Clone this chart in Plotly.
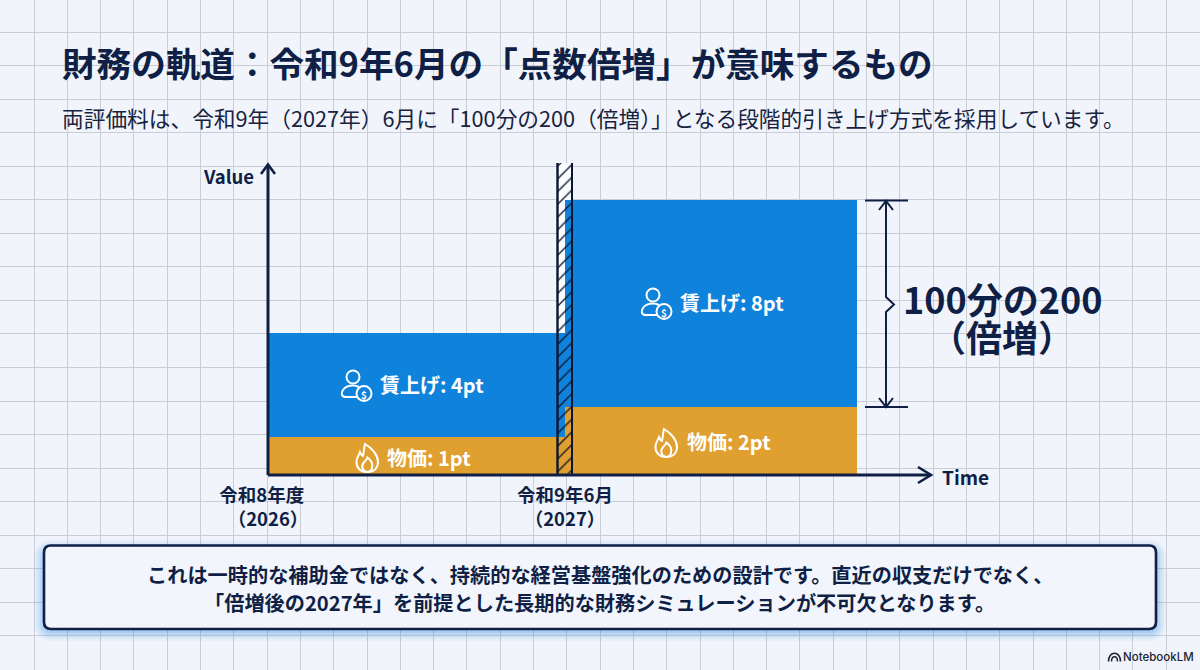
import plotly.graph_objects as go

# ---------- data ----------
time_ticks = [0, 1]
tick_labels = ["令和8年度&nbsp;&nbsp;&nbsp;<br>（2026）", "令和9年6月<br>（2027）"]
price_heights = [1.38, 2.47]   # in pt-scale of the axis
wage_heights = [3.78, 7.53]
bar_spans = [1.0, 0.983]
price_labels = ["物価: 1pt", "物価: 2pt"]
wage_labels = ["賃上げ: 4pt", "賃上げ: 8pt"]
title = "財務の軌道：令和9年6月の「点数倍増」が意味するもの"
subtitle = "両評価料は、令和9年（2027年）6月に「100分の200（倍増）」となる段階的引き上げ方式を採用しています。"
note_lines = ["これは一時的な補助金ではなく、持続的な経営基盤強化のための設計です。直近の収支だけでなく、",
              "「倍増後の2027年」を前提とした長期的な財務シミュレーションが不可欠となります。"]
y_top = 11.345
break_at = [1]

# ---------- style ----------
NAVY = "#0f1f45"
BLUE = "#0f82dc"
GOLD = "#e0a02f"
BG = "#f1f5fb"
GRID = "#c9cdd5"
FONT = "Noto Sans CJK JP"
PX_PER_X = 297.0

fig = go.Figure()

# full-page axes (pixel scale) carrying the squared paper
fig.add_trace(go.Scatter(x=[0], y=[0], mode="none", hoverinfo="skip", showlegend=False, xaxis="x", yaxis="y"))

common = dict(xaxis="x2", yaxis="y2", showlegend=False, hoverinfo="skip")
fig.add_trace(go.Bar(x=break_at, y=[y_top], width=[15 / PX_PER_X], offset=[-8 / PX_PER_X],
                     marker=dict(color="#fbfcfe", line=dict(width=0)), **common))
fig.add_trace(go.Bar(x=time_ticks, y=price_heights, width=bar_spans, offset=[0, 0],
                     marker=dict(color=GOLD, line=dict(width=0)), **common))
fig.add_trace(go.Bar(x=time_ticks, y=wage_heights, base=price_heights, width=bar_spans, offset=[0, 0],
                     marker=dict(color=BLUE, line=dict(width=0)), **common))
fig.add_trace(go.Bar(x=break_at, y=[y_top], width=[15 / PX_PER_X], offset=[-8 / PX_PER_X],
                     marker=dict(color="rgba(0,0,0,0)", line=dict(width=0),
                                 pattern=dict(shape="/", fgcolor="#0a1530", bgcolor="rgba(0,0,0,0)",
                                              size=9, solidity=0.15)), **common))


def line(x0, y0, x1, y1, w=2.0, c=NAVY):
    return dict(type="line", xref="x", yref="y", x0=x0, y0=y0, x1=x1, y1=y1,
                line=dict(color=c, width=w))


def path(d, w=2.0, c=NAVY, fill="rgba(0,0,0,0)"):
    return dict(type="path", xref="x", yref="y", path=d, fillcolor=fill, line=dict(color=c, width=w))


def circle(cx, cy, r):
    k = 0.5523 * r
    return (f"M {cx - r} {cy} C {cx - r} {cy - k} {cx - k} {cy - r} {cx} {cy - r} "
            f"C {cx + k} {cy - r} {cx + r} {cy - k} {cx + r} {cy} "
            f"C {cx + r} {cy + k} {cx + k} {cy + r} {cx} {cy + r} "
            f"C {cx - k} {cy + r} {cx - r} {cy + k} {cx - r} {cy} Z")


def rrect(x0, y0, x1, y1, r):
    return (f"M {x0 + r} {y0} L {x1 - r} {y0} Q {x1} {y0} {x1} {y0 + r} L {x1} {y1 - r} "
            f"Q {x1} {y1} {x1 - r} {y1} L {x0 + r} {y1} Q {x0} {y1} {x0} {y1 - r} "
            f"L {x0} {y0 + r} Q {x0} {y0} {x0 + r} {y0} Z")


def person(dx, dy):
    w = 2.0
    return [
        path(circle(353 + dx, 377 + dy, 6.5), w, "white"),
        path(f"M {357 + dx} {397 + dy} L {346 + dx} {397 + dy} C {341 + dx} {397 + dy} {341 + dx} {393 + dy} "
             f"{343 + dx} {390 + dy} C {345 + dx} {387 + dy} {349 + dx} {385.5 + dy} {353 + dx} {385.5 + dy} "
             f"C {355 + dx} {385.5 + dy} {357 + dx} {386 + dy} {359 + dx} {387 + dy}", w, "white"),
        path(circle(364 + dx, 393.5 + dy, 7.5), w, "white"),
    ]


def flame(dx, dy):
    w = 2.0
    return [
        path(f"M {367 + dx} {472 + dy} C {360 + dx} {472 + dy} {356 + dx} {467 + dy} {356.5 + dx} {461 + dy} "
             f"C {357 + dx} {457 + dy} {359 + dx} {455 + dy} {360 + dx} {452 + dy} C {361 + dx} {454 + dy} {362 + dx} {456 + dy} {363 + dx} {456 + dy} "
             f"C {364 + dx} {452 + dy} {364 + dx} {447 + dy} {365 + dx} {444 + dy} "
             f"C {372 + dx} {448 + dy} {378 + dx} {455 + dy} {378 + dx} {462 + dy} "
             f"C {378 + dx} {468 + dy} {374 + dx} {472 + dy} {367 + dx} {472 + dy} Z", w, "white"),
        path(f"M {367 + dx} {472 + dy} C {362.5 + dx} {471 + dy} {361 + dx} {466 + dy} {363.5 + dx} {463 + dy} "
             f"C {365 + dx} {461 + dy} {367 + dx} {459.5 + dy} {367.5 + dx} {457.5 + dy} "
             f"C {371 + dx} {460 + dy} {373 + dx} {464 + dy} {372 + dx} {468 + dy} C {371.5 + dx} {470 + dy} {369.5 + dx} {472 + dy} {367 + dx} {472 + dy} Z",
             w, "white"),
    ]


shapes = []
# note box with soft blue shadow
for grow, a in [(10, 0.06), (8, 0.07), (6, 0.09), (4, 0.11), (2, 0.15)]:
    shapes.append(dict(type="path", xref="x", yref="y",
                       path=rrect(44 - grow, 545 - grow + 5, 1156 + grow, 629 + grow + 2, 8 + grow),
                       fillcolor=f"rgba(70,145,230,{a})", line=dict(width=0)))
shapes.append(path(rrect(44, 545.5, 1156, 629, 7), 2.6, NAVY, "#f2f6fc"))
# break band sides
shapes += [line(557.5, 163, 557.5, 475, 2.4, "#0a1530"), line(572, 163, 572, 475, 2.0, "#0a1530")]
# axes
shapes += [line(268, 475, 268, 165, 3), line(268, 475, 931, 475, 3),
           path("M 261 174 L 268 164.5 L 275 174", 2.6), path("M 918 467 L 931 475 L 918 483", 2.6)]
# bracket
shapes += [line(865, 200.5, 908, 200.5, 2), line(865, 407, 908, 407, 2),
           path("M 886 201 L 886 297 L 894 304.5 L 886 312 L 886 407", 2),
           path("M 879 210 L 886 201 L 893 210", 2), path("M 879 398 L 886 407 L 893 398", 2)]
# icons
shapes += person(0, 0) + person(300, -82) + flame(0, 0) + flame(299, -15)
# NotebookLM mark
shapes += [path("M 1108.5 661.5 C 1108.5 650.5 1120.5 650.5 1120.5 661.5", 1.6, "#1c2433"),
           path("M 1111.5 661.5 C 1111.5 655 1117.5 655 1117.5 661.5", 1.5, "#1c2433")]


def text(x, y, s, size, color=NAVY, weight=700, anchor="center", family=FONT):
    return dict(xref="x", yref="y", x=x, y=y, text=s, showarrow=False, xanchor=anchor, yanchor="middle",
                font=dict(family=family, size=size, color=color, weight=weight))


annotations = [
    text(60, 62, title, 34.6, anchor="left"),
    text(60, 117.5, subtitle, 21.7, color="#17233f", weight=400, anchor="left"),
    text(228, 175.5, "Value", 18.5),
    text(965, 476.5, "Time", 19),
    text(1002, 297.5, "100分の200", 36),
    text(1002, 335.5, "（倍増）", 36),
    text(432, 384.5, wage_labels[0], 20, "white"),
    text(732, 302.5, wage_labels[1], 20, "white"),
    text(429, 457, price_labels[0], 20, "white"),
    text(729, 441, price_labels[1], 20, "white"),
    text(364, 394, "$", 10, "white"),
    text(664, 312, "$", 10, "white"),
    text(600, 574.5, note_lines[0], 20.2),
    text(599, 602.5, note_lines[1], 20.2),
    text(1158, 657, "NotebookLM", 11.5, "#1c2433", 500, family="Inter"),
]

fig.update_layout(
    template="none",
    width=1200, height=670, autosize=False,
    margin=dict(l=0, r=0, t=0, b=0, pad=0),
    paper_bgcolor=BG, plot_bgcolor="rgba(0,0,0,0)",
    barmode="overlay", bargap=0, showlegend=False,
    xaxis=dict(domain=[0, 1], range=[0, 1200], tick0=34, dtick=33.3, showgrid=True, gridcolor=GRID, gridwidth=1,
               zeroline=False, showticklabels=False, ticks="", showline=False, fixedrange=True, automargin=False),
    yaxis=dict(domain=[0, 1], range=[670, 0], tick0=32, dtick=33.55, showgrid=True, gridcolor=GRID, gridwidth=1,
               zeroline=False, showticklabels=False, ticks="", showline=False, fixedrange=True, automargin=False),
    xaxis2=dict(domain=[268 / 1200, 932 / 1200], range=[0, 664 / PX_PER_X], anchor="y2",
                tickmode="array", tickvals=time_ticks, ticktext=tick_labels,
                tickfont=dict(family=FONT, size=18.5, color=NAVY, weight=700),
                ticks="outside", ticklen=4, tickcolor="rgba(0,0,0,0)", automargin=False,
                showgrid=False, zeroline=False, showline=False, fixedrange=True),
    yaxis2=dict(domain=[195 / 670, 507 / 670], range=[0, y_top], anchor="x2", automargin=False,
                showticklabels=False, ticks="", showgrid=False, zeroline=False, showline=False, fixedrange=True),
    shapes=shapes,
    annotations=annotations,
)

fig.write_html("out.html", config={"displayModeBar": False},
               post_script="document.body.style.margin='0';document.body.style.overflow='hidden';")
